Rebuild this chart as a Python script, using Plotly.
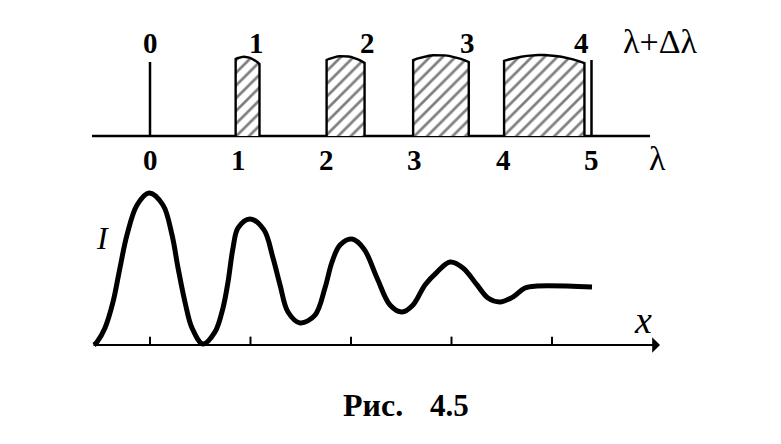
import numpy as np
import plotly.graph_objects as go

# the page body has an 8px margin; the figure is sized/positioned to compensate
OFF = 8
W, H = 781 - OFF, 444 - OFF

# ---------------- data ----------------
# top: spectra of orders (lambda units)
order_labels = ["0", "1", "2", "3", "4"]
order_label_pos = [0.0, 1.21, 2.46, 3.59, 4.89]      # positions of k(λ+Δλ)
lambda_ticks = [0, 1, 2, 3, 4, 5]
lambda_tick_labels = ["0", "1", "2", "3", "4", "5"]
bar_start = [0.97, 2.00, 2.98, 4.01]
bar_end = [1.24, 2.43, 3.61, 4.92]
bar_top_left = [0.962, 0.950, 0.950, 0.938]
bar_top_peak = [0.988, 1.000, 1.012, 1.012]
bar_top_right = [0.900, 0.912, 0.925, 0.912]
line0_height = 0.925
line5_pos = 5.0
line5_height = 0.95

# bottom: intensity pattern I(x)
x_ticks = [0, 1, 2, 3, 4]
curve_x = [-0.557, -0.527, -0.448, -0.368, -0.299, -0.229, -0.129, -0.010, 0.129, 0.219,
           0.279, 0.348, 0.418, 0.527, 0.647, 0.726, 0.776, 0.826, 0.876, 0.995,
           1.134, 1.224, 1.294, 1.373, 1.493, 1.642, 1.741, 1.811, 1.891, 2.010,
           2.129, 2.259, 2.388, 2.507, 2.617, 2.736, 2.856, 2.985, 3.114, 3.254,
           3.363, 3.483, 3.612, 3.731, 3.851, 4.398]
curve_I = [0.000, 0.020, 0.112, 0.283, 0.507, 0.724, 0.921, 1.000, 0.921, 0.724,
           0.507, 0.283, 0.112, 0.007, 0.086, 0.243, 0.414, 0.638, 0.770, 0.829,
           0.757, 0.572, 0.395, 0.217, 0.145, 0.197, 0.375, 0.546, 0.658, 0.697,
           0.632, 0.441, 0.263, 0.217, 0.263, 0.395, 0.480, 0.546, 0.507, 0.395,
           0.309, 0.283, 0.316, 0.375, 0.388, 0.382]

# ---------------- pixel mapping (layout only) ----------------
# top axes: px = 150 + 88.3*v ; py = 136 - 80*h   (window pixels)
tx0, tsx = 150 - OFF, 88.3
ty0, tsy = 136 - OFF, 80
# bottom axes: px = 150 + 100.5*v ; py = 345 - 152*I
bx0, bsx = 150 - OFF, 100.5
by0, bsy = 345 - OFF, 152

FONT = "Liberation Serif"
DIG = dict(family=FONT, size=29, color="black")

fig = go.Figure()

# top axis line
fig.add_trace(go.Scatter(x=[(92 - 150) / tsx, (650 - 150) / tsx], y=[0, 0], mode="lines",
                         line=dict(color="black", width=2.5), xaxis="x", yaxis="y",
                         showlegend=False, hoverinfo="skip"))

# hatched bars
for s, e, hl, hp, hr in zip(bar_start, bar_end, bar_top_left, bar_top_peak, bar_top_right):
    t = np.linspace(0, 1, 15)
    xs_top = s + (e - s) * t
    a, b, c = 0.0, 0.45, 1.0
    ys_top = (hl * (t - b) * (t - c) / ((a - b) * (a - c))
              + hp * (t - a) * (t - c) / ((b - a) * (b - c))
              + hr * (t - a) * (t - b) / ((c - a) * (c - b)))
    px = [s, s] + list(xs_top) + [e, e]
    py = [0, hl] + list(ys_top) + [hr, 0]
    fig.add_trace(go.Scatter(x=px, y=py, mode="lines", fill="toself",
                             fillcolor="white",
                             fillpattern=dict(shape="/", fgcolor="black", bgcolor="white",
                                              size=9, solidity=0.3),
                             line=dict(color="black", width=2.4),
                             xaxis="x", yaxis="y", showlegend=False, hoverinfo="skip"))

# zero-order line and line at 5
fig.add_trace(go.Scatter(x=[0, 0, None, line5_pos, line5_pos],
                         y=[0, line0_height, None, 0, line5_height], mode="lines",
                         line=dict(color="black", width=2.5), xaxis="x", yaxis="y",
                         showlegend=False, hoverinfo="skip"))

# bottom axis ticks
tx, ty = [], []
for t in x_ticks:
    tx += [t, t, None]
    ty += [0, 0.055, None]
fig.add_trace(go.Scatter(x=tx, y=ty, mode="lines", line=dict(color="black", width=2),
                         xaxis="x2", yaxis="y2", showlegend=False, hoverinfo="skip"))

# intensity curve
fig.add_trace(go.Scatter(x=curve_x, y=curve_I, mode="lines",
                         line=dict(color="black", width=5, shape="spline", smoothing=1.0),
                         xaxis="x2", yaxis="y2", showlegend=False, hoverinfo="skip"))

ann = []
# bottom axis with arrow
ann.append(dict(x=(660 - 150) / bsx, y=0, ax=(92 - 150) / bsx, ay=0,
                xref="x2", yref="y2", axref="x2", ayref="y2",
                showarrow=True, arrowhead=1, arrowsize=1.3, arrowwidth=2,
                arrowcolor="black", text=""))
# top order labels
for p, lab in zip(order_label_pos, order_labels):
    ann.append(dict(x=p, y=(136 - 43) / tsy, xref="x", yref="y", text="<b>%s</b>" % lab,
                    showarrow=False, font=DIG, xanchor="center", yanchor="middle"))
# lambda tick labels
for p, lab in zip(lambda_ticks, lambda_tick_labels):
    ann.append(dict(x=p, y=(136 - 160) / tsy, xref="x", yref="y", text="<b>%s</b>" % lab,
                    showarrow=False, font=DIG, xanchor="center", yanchor="middle"))


def paper(px, py):
    return (px - OFF) / W, 1 - (py - OFF) / H


for txt, px, py, size in [
    ("λ+Δλ", 660, 42, 34),
    ("λ", 657, 158, 34),
    ("<i>I</i>", 102, 238, 32),
    ("<i>x</i>", 643, 320, 38),
    ("<b>Рис.</b>", 373, 405, 32),
    ("<b>4.5</b>", 450, 405, 31),
]:
    x, y = paper(px, py)
    ann.append(dict(x=x, y=y, xref="paper", yref="paper", text=txt, showarrow=False,
                    font=dict(family=FONT, size=size, color="black"),
                    xanchor="center", yanchor="middle"))

hid = dict(visible=False, showgrid=False, zeroline=False, fixedrange=True)
fig.update_layout(
    width=W, height=H, margin=dict(l=0, r=0, t=0, b=0),
    paper_bgcolor="white", plot_bgcolor="rgba(0,0,0,0)",
    xaxis=dict(domain=[0, 1], range=[-tx0 / tsx, (W - tx0) / tsx], **hid),
    yaxis=dict(domain=[0, 1], range=[-(H - ty0) / tsy, ty0 / tsy], **hid),
    xaxis2=dict(domain=[0, 1], range=[-bx0 / bsx, (W - bx0) / bsx], anchor="y2", **hid),
    yaxis2=dict(domain=[0, 1], range=[-(H - by0) / bsy, by0 / bsy], anchor="x2", **hid),
    annotations=ann,
    showlegend=False,
)

fig.write_html("out.html")
